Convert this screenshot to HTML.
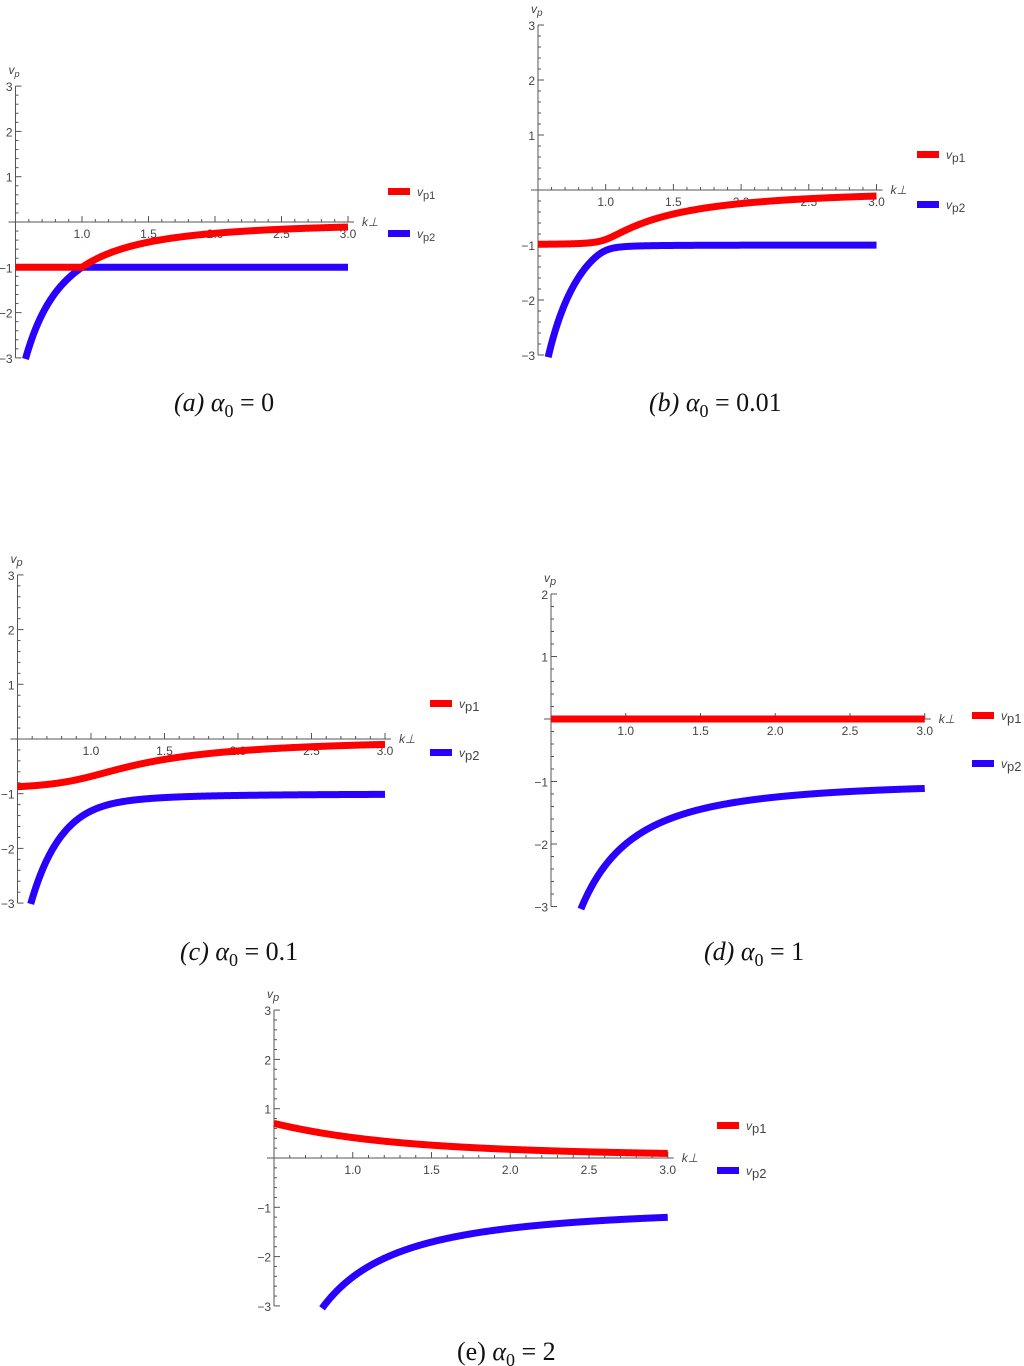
<!DOCTYPE html>
<html><head><meta charset="utf-8"><style>
html,body{margin:0;padding:0;background:#fff;}
svg{display:block;}
.t{font-family:"Liberation Sans",sans-serif;font-size:12px;fill:#444;}
.cap{font-family:"Liberation Serif",serif;font-size:26px;fill:#111;}
</style></head><body>
<svg id="s" width="1024" height="1366" xmlns="http://www.w3.org/2000/svg">
<text class="cap" x="174" y="411"><tspan font-style="italic">(a) α</tspan><tspan font-size="18" dy="6">0</tspan><tspan dy="-6"> = 0</tspan></text>
<text class="cap" x="649" y="411"><tspan font-style="italic">(b)  α</tspan><tspan font-size="18" dy="6">0</tspan><tspan dy="-6"> = 0.01</tspan></text>
<text class="cap" x="180" y="960"><tspan font-style="italic">(c)   α</tspan><tspan font-size="18" dy="6">0</tspan><tspan dy="-6"> = 0.1</tspan></text>
<text class="cap" x="704" y="960"><tspan font-style="italic">(d)   α</tspan><tspan font-size="18" dy="6">0</tspan><tspan dy="-6"> = 1</tspan></text>
<text class="cap" x="457" y="1360">(e) <tspan font-style="italic">α</tspan><tspan font-size="18" dy="6">0</tspan><tspan dy="-6"> = 2</tspan></text>
</svg>
<script>
var s=document.getElementById('s'),NS='http://www.w3.org/2000/svg';
function el(n,a,t){var e=document.createElementNS(NS,n);for(var k in a)e.setAttribute(k,a[k]);if(t!=null)e.textContent=t;s.appendChild(e);return e;}
var P=[
{x0:15.5,h:66.5,y0:222,u:45.3,ym:3,a:0,lx:388,l1:191,l2:233,fs:12},
{x0:538,h:67.7,y0:190,u:55,ym:3,a:0.01,lx:917,l1:154,l2:204,fs:13},
{x0:17.5,h:73.5,y0:739,u:54.7,ym:3,a:0.1,lx:430,l1:703,l2:752,fs:14},
{x0:551,h:74.75,y0:719,u:62.5,ym:2,a:1,lx:972,l1:715,l2:763,fs:14},
{x0:274,h:78.75,y0:1158,u:49.3,ym:3,a:2,lx:717,l1:1125,l2:1170,fs:14}
];
P.forEach(function(p){
 var X=function(k){return p.x0+(k-0.5)*2*p.h;},Y=function(v){return p.y0-v*p.u;};
 var xe=X(3.0)+6;
 el('line',{x1:p.x0,y1:Y(p.ym),x2:p.x0,y2:Y(-3),stroke:'#555','stroke-width':1});
 el('line',{x1:p.x0-7,y1:p.y0,x2:xe,y2:p.y0,stroke:'#555','stroke-width':1});
 for(var i=6;i<=30;i++){var k=i/10,x=X(k),mj=(i%5==0);
  el('line',{x1:x,y1:p.y0,x2:x,y2:p.y0-(mj?6:3),stroke:'#555','stroke-width':1});
  if(mj)el('text',{class:'t',x:x,y:p.y0+16,'text-anchor':'middle','font-size':p.fs},(k).toFixed(1));}
 for(var j=-15;j<=p.ym*5;j++){var y=Y(j/5),mj=(j%5==0);
  el('line',{x1:p.x0,y1:y,x2:p.x0+(mj?6:3),y2:y,stroke:'#555','stroke-width':1});
  if(mj&&j!=0)el('text',{class:'t',x:p.x0-3,y:y+5,'text-anchor':'end','font-size':p.fs},(j<0?'−':'')+Math.abs(j/5));}
 el('text',{class:'t',x:p.x0-7,y:Y(p.ym)-12,'font-style':'italic','font-size':p.fs},'v').appendChild((function(){var t=document.createElementNS(NS,'tspan');t.setAttribute('font-size',p.fs-3);t.setAttribute('dy','3');t.textContent='p';return t;})());
 el('text',{class:'t',x:xe+8,y:p.y0+4,'font-style':'italic','font-size':p.fs},'k⊥');
 var r='',b='';
 for(var n=0;n<=500;n++){var k=0.5+2.5*n/500,q=1/(k*k),sm=-(1+q),d=Math.sqrt((1-q)*(1-q)+4*p.a*q);
  var v1=(sm+d)/2,v2=(sm-d)/2;
  r+=(n?'L':'M')+X(k).toFixed(2)+' '+Y(Math.max(v1,-3.1)).toFixed(2);
  if(v2>=-3.05)b+=(b?'L':'M')+X(k).toFixed(2)+' '+Y(v2).toFixed(2);}
 el('path',{d:b,fill:'none',stroke:'#2a00ff','stroke-width':7});
 el('path',{d:r,fill:'none',stroke:'#ff0000','stroke-width':7});
 el('rect',{x:p.lx,y:p.l1-3,width:22,height:7,fill:'#ff0000'});
 el('rect',{x:p.lx,y:p.l2-3,width:22,height:7,fill:'#2a00ff'});
 [['1',p.l1],['2',p.l2]].forEach(function(o){var t=el('text',{class:'t',x:p.lx+29,y:o[1]+5,'font-size':p.fs+2,fill:'#222','font-style':'italic'},'v');
  var ts=document.createElementNS(NS,'tspan');ts.setAttribute('font-size',p.fs-1);ts.setAttribute('dy','3');ts.setAttribute('font-style','normal');ts.textContent='p'+o[0];t.appendChild(ts);});
});
</script>
</body></html>
